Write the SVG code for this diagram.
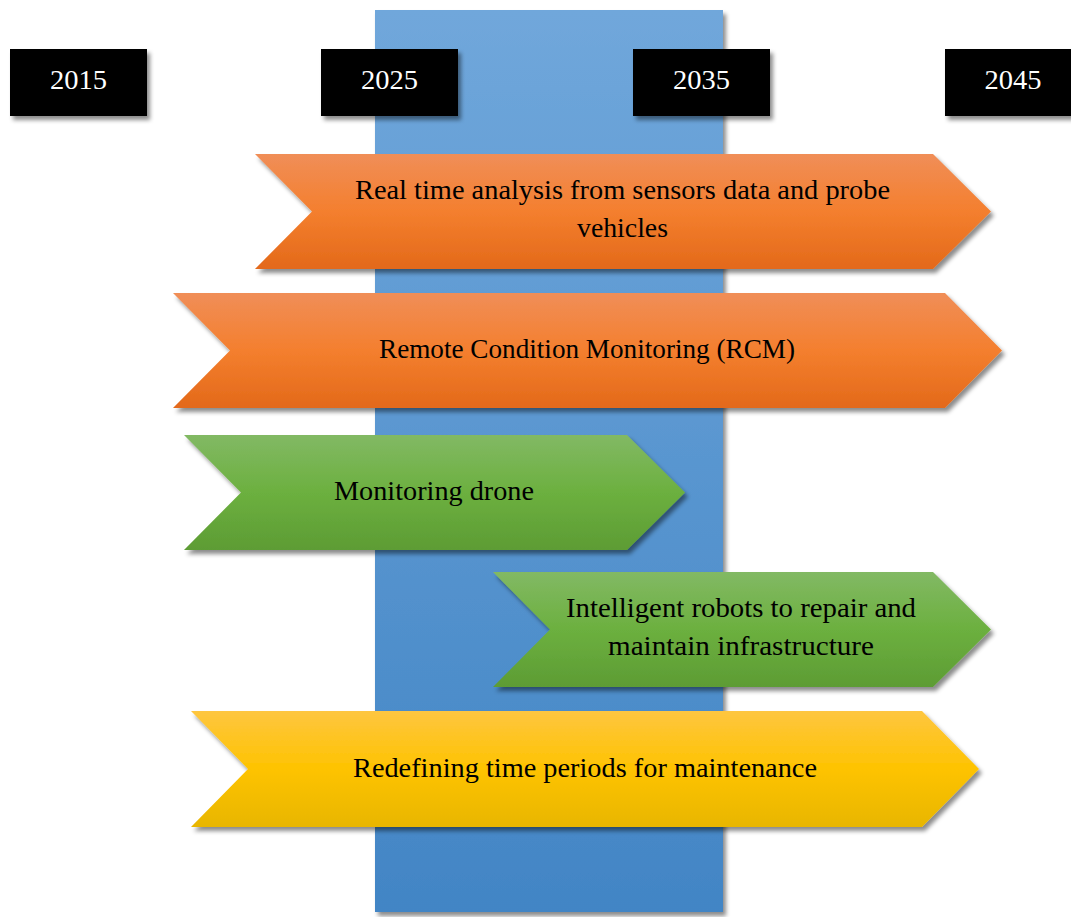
<svg xmlns="http://www.w3.org/2000/svg" width="1071" height="917" viewBox="0 0 1071 917">
<defs>
<filter id="sh" x="-10%" y="-10%" width="125%" height="130%">
<feDropShadow dx="3" dy="4" stdDeviation="2.2" flood-color="#000" flood-opacity="0.45"/>
</filter>
<linearGradient id="gBlue" x1="0" y1="0" x2="0" y2="1">
<stop offset="0" stop-color="#70a7db"/>
<stop offset="1" stop-color="#4285c5"/>
</linearGradient>
<linearGradient id="gOrange" x1="0" y1="0" x2="0" y2="1">
<stop offset="0" stop-color="#f08e58"/>
<stop offset="0.5" stop-color="#f47f2e"/>
<stop offset="1" stop-color="#e3691a"/>
</linearGradient>
<linearGradient id="gGreen" x1="0" y1="0" x2="0" y2="1">
<stop offset="0" stop-color="#82b964"/>
<stop offset="0.5" stop-color="#6cb03f"/>
<stop offset="1" stop-color="#5d9c34"/>
</linearGradient>
<linearGradient id="gYellow" x1="0" y1="0" x2="0" y2="1">
<stop offset="0" stop-color="#fec640"/>
<stop offset="0.5" stop-color="#fec300"/>
<stop offset="1" stop-color="#e8b600"/>
</linearGradient>
</defs>
<style>
.lbl{font-family:"Liberation Serif","DejaVu Serif",serif;font-size:26.5px;fill:#000;text-anchor:middle}
.yr{font-family:"Liberation Serif","DejaVu Serif",serif;font-size:26.5px;fill:#fff;text-anchor:middle}
.box{fill:#000;filter:url(#sh)}
.chev{filter:url(#sh)}
</style>
<g id="band">
<rect x="375" y="10" width="348" height="902" fill="url(#gBlue)" filter="url(#sh)"/>
</g>
<g id="years">
<g id="y2015"><rect class="box" x="10" y="49" width="137" height="67"/><text class="yr" x="78.5" y="89" textLength="57" lengthAdjust="spacingAndGlyphs">2015</text></g>
<g id="y2025"><rect class="box" x="321" y="49" width="137" height="67"/><text class="yr" x="389.5" y="89" textLength="57" lengthAdjust="spacingAndGlyphs">2025</text></g>
<g id="y2035"><rect class="box" x="633" y="49" width="137" height="67"/><text class="yr" x="701.5" y="89" textLength="57" lengthAdjust="spacingAndGlyphs">2035</text></g>
<g id="y2045"><rect class="box" x="945" y="49" width="137" height="67"/><text class="yr" x="1013" y="89" textLength="57" lengthAdjust="spacingAndGlyphs">2045</text></g>
</g>
<g id="connectors"></g>
<g id="n1">
<polygon class="chev" points="255,154 933,154 991,211.5 933,269 255,269 312,211.5" fill="url(#gOrange)"/>
<text class="lbl" x="622.5" y="199" textLength="535" lengthAdjust="spacingAndGlyphs">Real time analysis from sensors data and probe</text>
<text class="lbl" x="622.5" y="237" textLength="91" lengthAdjust="spacingAndGlyphs">vehicles</text>
</g>
<g id="n2">
<polygon class="chev" points="173,293 945,293 1002,350.5 945,408 173,408 230,350.5" fill="url(#gOrange)"/>
<text class="lbl" x="587" y="358" textLength="416" lengthAdjust="spacingAndGlyphs">Remote Condition Monitoring (RCM)</text>
</g>
<g id="n3">
<polygon class="chev" points="184,435 627,435 685,492.5 627,550 184,550 241,492.5" fill="url(#gGreen)"/>
<text class="lbl" x="434" y="500" textLength="200" lengthAdjust="spacingAndGlyphs">Monitoring drone</text>
</g>
<g id="n4">
<polygon class="chev" points="493,572 933,572 991,629.5 933,687 493,687 550,629.5" fill="url(#gGreen)"/>
<text class="lbl" x="741" y="617" textLength="350" lengthAdjust="spacingAndGlyphs">Intelligent robots to repair and</text>
<text class="lbl" x="741" y="655" textLength="266" lengthAdjust="spacingAndGlyphs">maintain infrastructure</text>
</g>
<g id="n5">
<polygon class="chev" points="191,711 922,711 979,769 922,827 191,827 248,769" fill="url(#gYellow)"/>
<text class="lbl" x="585" y="777" textLength="464" lengthAdjust="spacingAndGlyphs">Redefining time periods for maintenance</text>
</g>
</svg>
